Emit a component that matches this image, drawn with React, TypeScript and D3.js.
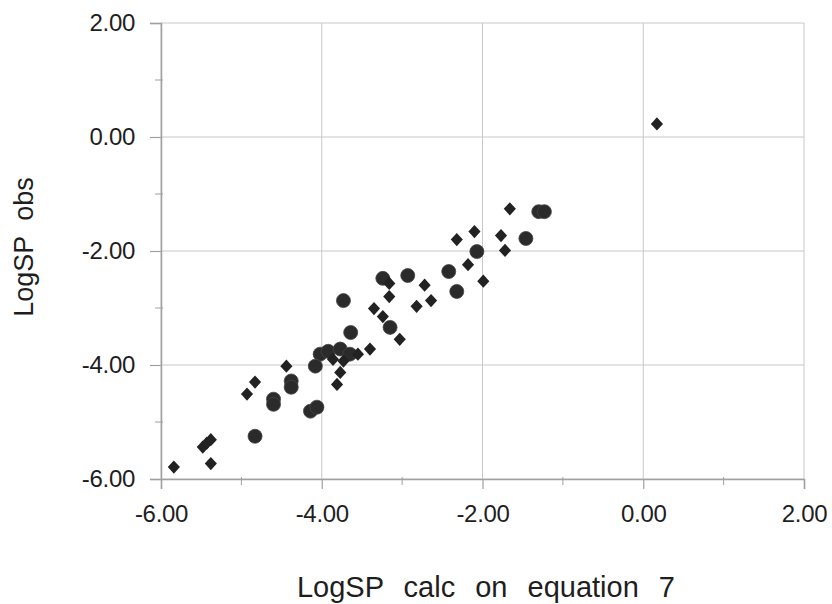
import * as d3 from "d3";
import { useEffect, useRef } from "react";

// diamond series (calc, obs)
const diamondX = [0.17, -1.66, -2.1, -2.32, -1.77, -1.72, -2.18, -1.99, -3.16, -2.72, -3.16, -2.82, -2.64, -3.35, -3.24, -3.03, -3.4, -3.55, -3.86, -3.73, -3.77, -3.81, -4.44, -4.83, -4.93, -5.48, -5.43, -5.38, -5.84, -5.38];
const diamondY = [0.23, -1.26, -1.66, -1.8, -1.73, -1.99, -2.24, -2.53, -2.57, -2.6, -2.8, -2.97, -2.87, -3.01, -3.15, -3.55, -3.72, -3.81, -3.9, -3.93, -4.13, -4.34, -4.02, -4.3, -4.51, -5.44, -5.37, -5.31, -5.79, -5.73];

// circle series (calc, obs)
const circleX = [-1.3, -1.23, -1.46, -2.07, -2.42, -2.32, -2.93, -3.24, -3.73, -3.15, -3.64, -4.02, -3.92, -3.77, -3.65, -4.08, -4.38, -4.38, -4.6, -4.6, -4.14, -4.06, -4.83];
const circleY = [-1.31, -1.31, -1.78, -2.01, -2.36, -2.71, -2.43, -2.48, -2.87, -3.34, -3.43, -3.81, -3.76, -3.72, -3.81, -4.02, -4.28, -4.39, -4.6, -4.69, -4.81, -4.74, -5.25];

const ticks = [-6, -4, -2, 0, 2];
const minorTicks = [-5, -3, -1, 1];

const xTitle = "LogSP calc on equation 7";
const yTitle = "LogSP obs";

function ScatterChart() {
	const ref = useRef<SVGSVGElement | null>(null);

	useEffect(() => {
		const svg = d3.select(ref.current);
		svg.selectAll("*").remove();

		const width = 832;
		const height = 604;
		const left = 161, right = 804, top = 23, bottom = 479;

		const x = d3.scaleLinear().domain([-6, 2]).range([left, right]);
		const y = d3.scaleLinear().domain([-6, 2]).range([bottom, top]);

		svg.attr("width", width).attr("height", height);
		svg.append("rect").attr("width", width).attr("height", height).attr("fill", "#fff");

		const font = "'Liberation Sans', Arial, sans-serif";
		const fmt = (d: any) => (d as number).toFixed(2);

		// grid
		const grid = svg.append("g").attr("stroke", "#c8c8c8").attr("stroke-width", 1);
		ticks.forEach(t => {
			grid.append("line").attr("x1", x(t)).attr("x2", x(t)).attr("y1", top).attr("y2", bottom);
			grid.append("line").attr("x1", left).attr("x2", right).attr("y1", y(t)).attr("y2", y(t));
		});

		// axes
		const yAxis = d3.axisLeft(y).tickValues(ticks).tickSize(11).tickPadding(15).tickFormat(fmt);
		const xAxis = d3.axisBottom(x).tickValues(ticks).tickSize(10).tickPadding(16).tickFormat(fmt);

		const gy = svg.append("g").attr("transform", `translate(${left},0)`).call(yAxis);
		const gx = svg.append("g").attr("transform", `translate(0,${bottom})`).call(xAxis);

		[gx, gy].forEach(g => {
			g.select(".domain").attr("stroke", "#a0a0a0").attr("stroke-width", 1.5);
			g.selectAll(".tick line").attr("stroke", "#a0a0a0").attr("stroke-width", 1.2);
			g.selectAll("text").attr("font-family", font).attr("font-size", 24).attr("fill", "#1e1e1e").style("letter-spacing", "-0.3px");
		});

		// minor ticks
		const minor = svg.append("g").attr("stroke", "#a0a0a0").attr("stroke-width", 1);
		minorTicks.forEach(t => {
			minor.append("line").attr("x1", left - 6).attr("x2", left + 2).attr("y1", y(t)).attr("y2", y(t));
			minor.append("line").attr("x1", x(t)).attr("x2", x(t)).attr("y1", bottom - 2).attr("y2", bottom + 6);
		});

		// titles
		svg.append("text").attr("x", 486).attr("y", 597).attr("text-anchor", "middle")
			.attr("font-family", font).attr("font-size", 29).attr("fill", "#1e1e1e")
			.style("word-spacing", "12px").text(xTitle);
		svg.append("text").attr("transform", `translate(33,247) rotate(-90)`).attr("text-anchor", "middle")
			.attr("font-family", font).attr("font-size", 27).attr("fill", "#1e1e1e")
			.style("word-spacing", "8px").text(yTitle);

		// points
		const circles = circleX.map((v, i) => [v, circleY[i]]);
		const diamonds = diamondX.map((v, i) => [v, diamondY[i]]);

		svg.append("g").selectAll("circle").data(circles).enter().append("circle")
			.attr("cx", d => x(d[0])).attr("cy", d => y(d[1])).attr("r", 7)
			.attr("fill", "#2b2b2b").attr("stroke", "#444").attr("stroke-width", 0.8);

		const diamond = d3.symbol().type(d3.symbolDiamond).size(70);
		svg.append("g").selectAll("path").data(diamonds).enter().append("path")
			.attr("transform", d => `translate(${x(d[0])},${y(d[1])}) scale(1.35,0.85)`)
			.attr("d", diamond).attr("fill", "#222");
	}, []);

	return <svg ref={ref} style={{ position: "absolute", left: 0, top: 0 }}></svg>;
}

export default function App() {
	return <ScatterChart />;
}
